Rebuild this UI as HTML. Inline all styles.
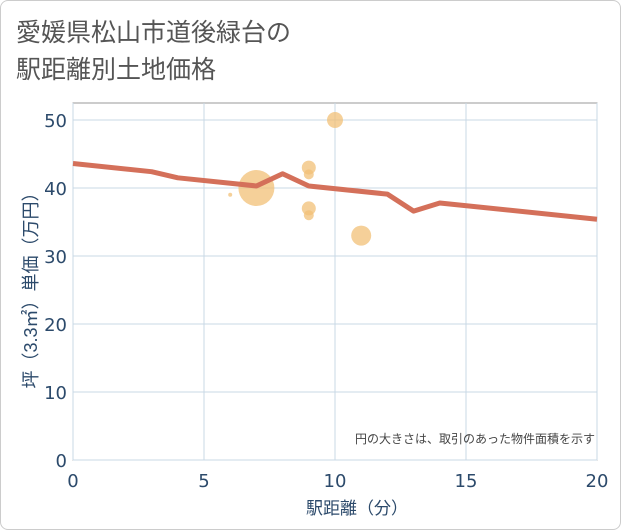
<!DOCTYPE html>
<html><head><meta charset="utf-8"><style>
body{margin:0;background:#fff;}
#card{position:absolute;left:0;top:0;width:619px;height:528px;border:1px solid #ccc;border-radius:8px;background:#fff;}
.t{font-family:"Liberation Sans","Noto Sans CJK JP",sans-serif;}
</style></head><body>
<div id="card"></div>
<svg width="621" height="530" style="position:absolute;left:0;top:0" class="t" id="svg">
<text x="16" y="41" font-size="25" fill="#555">愛媛県松山市道後緑台の</text>
<text x="16" y="78" font-size="25" fill="#555">駅距離別土地価格</text>
<rect x="73" y="103" width="524" height="357" fill="#fff" stroke="#999"/>
<g id="grid"></g><g id="bubbles"></g><g id="line"></g><g id="ticks"></g>
<text x="595" y="443" font-size="12" fill="#444" text-anchor="end">円の大きさは、取引のあった物件面積を示す</text>
<text x="357" y="514" font-size="17" fill="#2c4a6b" text-anchor="middle">駅距離（分）</text>
<text transform="translate(37,286) rotate(-90)" font-size="18" fill="#2c4a6b" text-anchor="middle">坪（3.3㎡）単価（万円）</text>
</svg>
<script>
const xTicks=[0,5,10,15,20];
const yTicks=[0,10,20,30,40,50];
const lineX=[0,3,4,7,8,9,12,13,14,20];
const lineY=[43.6,42.4,41.5,40.3,42.1,40.3,39.1,36.6,37.8,35.4];
const bubX=[6,7,9,9,9,9,10,11];
const bubY=[39,40,43,42,37,36,50,33];
const bubR=[2,18,7,5,7,5,8,10];
const sx=v=>73+v*524/20, sy=v=>460-v*6.8;
const NS='http://www.w3.org/2000/svg';
function mk(p,t,a){const e=document.createElementNS(NS,t);for(const k in a)e.setAttribute(k,a[k]);document.getElementById(p).appendChild(e);return e;}
xTicks.forEach(v=>{
 const g=mk('grid','line',{x1:sx(v),x2:sx(v),y1:103,y2:460,stroke:'#c8d8e6'});
 
 
 const t=mk('ticks','text',{x:sx(v),y:487,'font-size':18,fill:'#2c4a6b','text-anchor':'middle','font-family':'DejaVu Sans, sans-serif'});t.textContent=v;
 
 
});
yTicks.forEach(v=>{
 const g=mk('grid','line',{x1:73,x2:597,y1:sy(v),y2:sy(v),stroke:'#c8d8e6'});
 
 
 const t=mk('ticks','text',{x:67,y:sy(v)+7,'font-size':18,fill:'#2c4a6b','text-anchor':'end','font-family':'DejaVu Sans, sans-serif'});t.textContent=v;
 
 
});
bubX.forEach((x,i)=>{
 const c=mk('bubbles','circle',{cx:sx(x),cy:sy(bubY[i]),r:bubR[i],fill:'#f2c077','fill-opacity':0.75});
 
 
});
const p=mk('line','polyline',{points:lineX.map((x,i)=>sx(x)+','+sy(lineY[i])).join(' '),fill:'none',stroke:'#d4705a','stroke-width':5,'stroke-linejoin':'round'});


</script>
</body></html>
